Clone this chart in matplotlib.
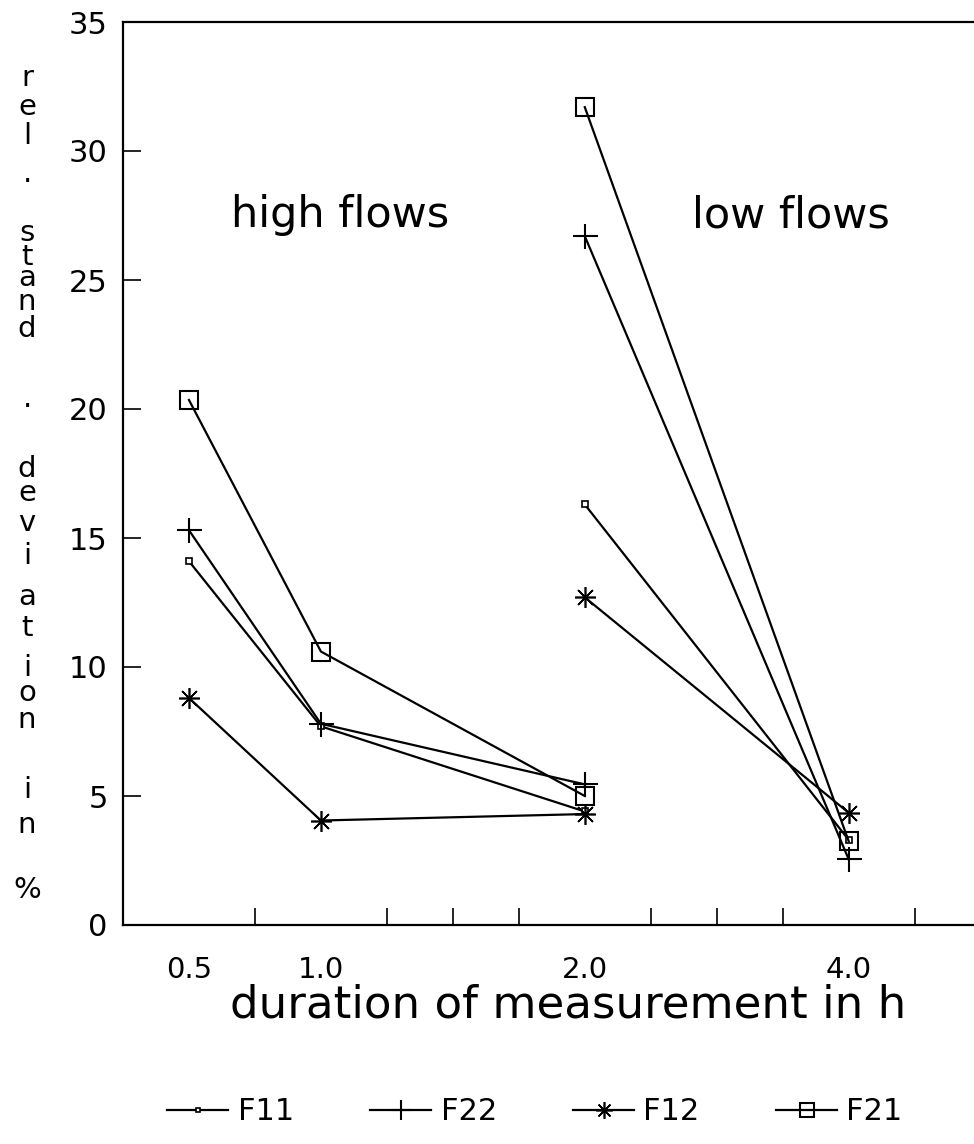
import matplotlib
matplotlib.use("Agg")
import matplotlib.pyplot as plt
from matplotlib.lines import Line2D

plt.rcParams['font.family'] = ['DejaVu Sans']

# --- data ---
durations_high = [0.5, 1.0, 2.0]
durations_low = [2.0, 4.0]

f11_high = [14.1, 7.7, 4.4]
f22_high = [15.3, 7.8, 5.45]
f12_high = [8.8, 4.05, 4.3]
f21_high = [20.35, 10.6, 5.0]

f11_low = [16.3, 3.3]
f22_low = [26.7, 2.55]
f12_low = [12.7, 4.35]
f21_low = [31.7, 3.25]

tick_labels = ["0.5", "1.0", "2.0", "4.0"]

# the x axis is not to scale: each duration sits on a fixed tick slot
slot = {0.5: 1, 1.0: 3, 2.0: 7, 4.0: 11}

W, H = 974, 1144
fig = plt.figure(figsize=(W / 100, H / 100), dpi=100)
ax = fig.add_axes([123 / W, (H - 925) / H, 1 - 123 / W, (925 - 22) / H])

styles = {
    "F11": dict(marker="s", ms=4, mfc="white", mec="black", mew=1.2),
    "F22": dict(marker="+", ms=18, mew=1.5),
    "F12": dict(marker=(8, 2, 0), ms=15, mew=1.2),
    "F21": dict(marker="s", ms=13, mfc="none", mec="black", mew=1.5),
}
series = [
    ("F11", f11_high, f11_low),
    ("F22", f22_high, f22_low),
    ("F12", f12_high, f12_low),
    ("F21", f21_high, f21_low),
]
for name, hi, lo in series:
    st = styles[name]
    ax.plot([slot[d] for d in durations_high], hi, color="black", lw=1.6, **st)
    ax.plot([slot[d] for d in durations_low], lo, color="black", lw=1.6, **st)

ax.set_xlim(0, 12.9)
ax.set_ylim(0, 35)
ax.set_xticks([slot[d] for d in [0.5, 1.0, 2.0, 4.0]])
ax.set_xticklabels(tick_labels)
ax.set_xticks(range(2, 13), minor=True)
ax.tick_params(axis="x", which="major", length=0, pad=22, labelsize=21)
ax.tick_params(axis="x", which="minor", direction="in", length=12, width=1.2)
ax.set_yticks(range(0, 36, 5))
ax.tick_params(axis="y", direction="in", length=13, width=1.2, pad=11, labelsize=22)

ax.spines["right"].set_visible(False)
for s in ["left", "bottom", "top"]:
    ax.spines[s].set_linewidth(1.6)

fig.text(340 / W, 1 - 215 / H, "high flows", fontsize=31, ha="center", va="center")
fig.text(791 / W, 1 - 215 / H, "low flows", fontsize=31, ha="center", va="center")

fig.text(568 / W, 1 - 1005 / H, "duration of measurement in h", fontsize=32.5,
         ha="center", va="center")

# stacked y-axis label, one character per line
ylab_chars = list("rel.stand.deviationin%")
ylab_base = [86, 115, 144, 182, 241, 265, 286, 310, 337, 407,
             477, 501, 531, 564, 605, 636, 676, 701, 728, 798, 833, 898]
for ch, yb in zip(ylab_chars, ylab_base):
    fig.text(27 / W, 1 - yb / H, ch, fontsize=21, ha="center", va="baseline")

handles = [Line2D([], [], color="black", lw=1.6, **styles[n]) for n, _, _ in series]
fig.legend(handles, [n for n, _, _ in series], loc="center", ncol=4,
           bbox_to_anchor=(535 / W, 1 - 1112 / H), frameon=False, fontsize=22,
           handlelength=2.0, handletextpad=0.3, columnspacing=2.5, markerscale=0.8)

fig.savefig("out.png", dpi=100)
